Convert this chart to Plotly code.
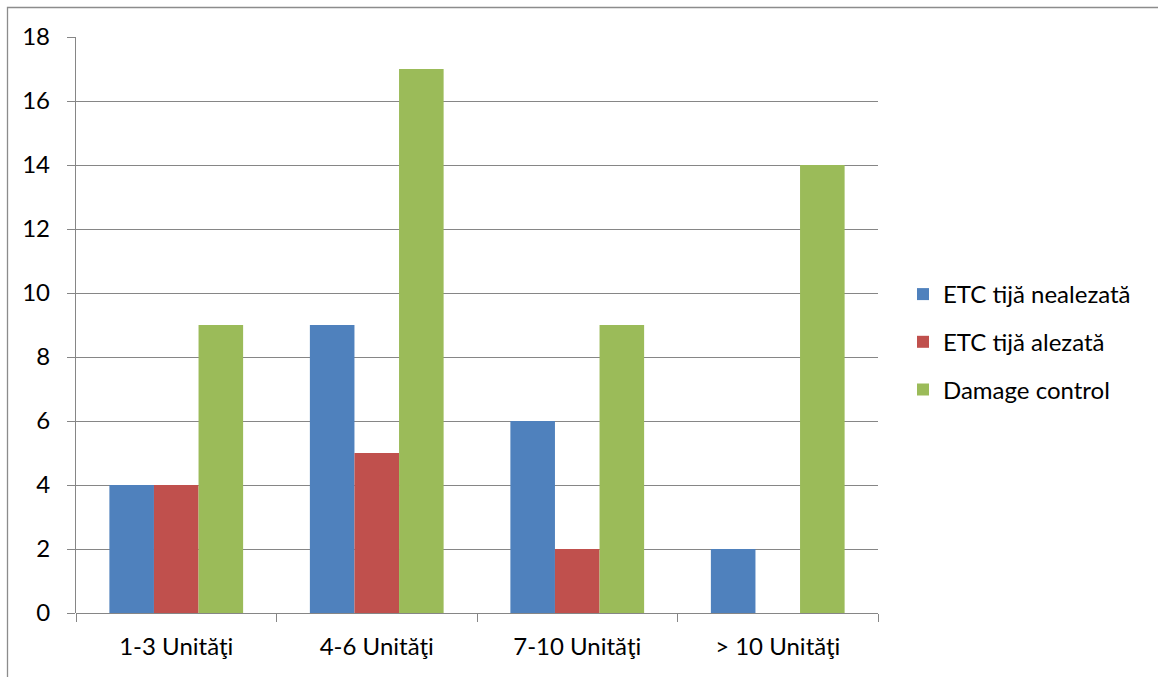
import plotly.graph_objects as go

categories = ["1-3 Unităţi", "4-6 Unităţi", "7-10 Unităţi", "> 10 Unităţi"]
series_names = ["ETC tijă nealezată", "ETC tijă alezată", "Damage control"]
nealezata = [4, 9, 6, 2]
alezata = [4, 5, 2, 0]
damage_control = [9, 17, 9, 14]
y_ticks = [0, 2, 4, 6, 8, 10, 12, 14, 16, 18]

colors = ["#4F81BD", "#C0504D", "#9BBB59"]
W, H = 1158, 677
L, R, T, B = 76, 280, 37, 64
pw, ph = W - L - R, H - T - B
grid = "#868686"
font = "Lato, 'Open Sans', sans-serif"
fs = 24

fig = go.Figure()
for i, (name, vals) in enumerate(zip(series_names, [nealezata, alezata, damage_control])):
    fig.add_trace(go.Bar(
        x=categories, y=vals, name=name, legendgroup=name,
        marker=dict(color=colors[i], line=dict(width=0)),
    ))

# outer chart frame (only top and left edges fall inside the page)
def px_x(p):
    return (p - L) / pw

def px_y(p):
    return (H - B - p) / ph

fig.add_shape(type="rect", xref="paper", yref="paper",
              x0=px_x(7.5), x1=px_x(W + 20), y0=px_y(H + 20), y1=px_y(7.5),
              line=dict(color="#8C8C8C", width=1.3), fillcolor="rgba(0,0,0,0)",
              layer="below")

fig.update_layout(
    width=W, height=H,
    margin=dict(l=L, r=R, t=T, b=B, pad=0),
    paper_bgcolor="white", plot_bgcolor="white",
    barmode="group", bargap=0.333, bargroupgap=0,
    font=dict(family=font, size=fs, color="#000000"),
    showlegend=True,
    legend=dict(
        x=px_x(903), y=px_y(272), xanchor="left", yanchor="top",
        font=dict(family=font, size=fs, color="#000000"),
        tracegroupgap=13.5, itemwidth=30, bgcolor="rgba(0,0,0,0)",
    ),
    xaxis=dict(
        showgrid=False, showline=False, zeroline=False,
        ticks="outside", tickson="boundaries", ticklen=8, tickcolor=grid, tickwidth=1.3,
        tickfont=dict(family=font, size=fs), ticklabelstandoff=17,
    ),
    yaxis=dict(
        range=[0, 18], tickvals=y_ticks, ticktext=[str(v) for v in y_ticks],
        showgrid=True, gridcolor=grid, gridwidth=1.3,
        showline=True, linecolor=grid, linewidth=1.3,
        zeroline=True, zerolinecolor=grid, zerolinewidth=1.3,
        ticks="outside", ticklen=8, tickcolor=grid, tickwidth=1.3,
        tickfont=dict(family=font, size=fs), ticklabelstandoff=12,
    ),
)

fig.write_html("out.html")
